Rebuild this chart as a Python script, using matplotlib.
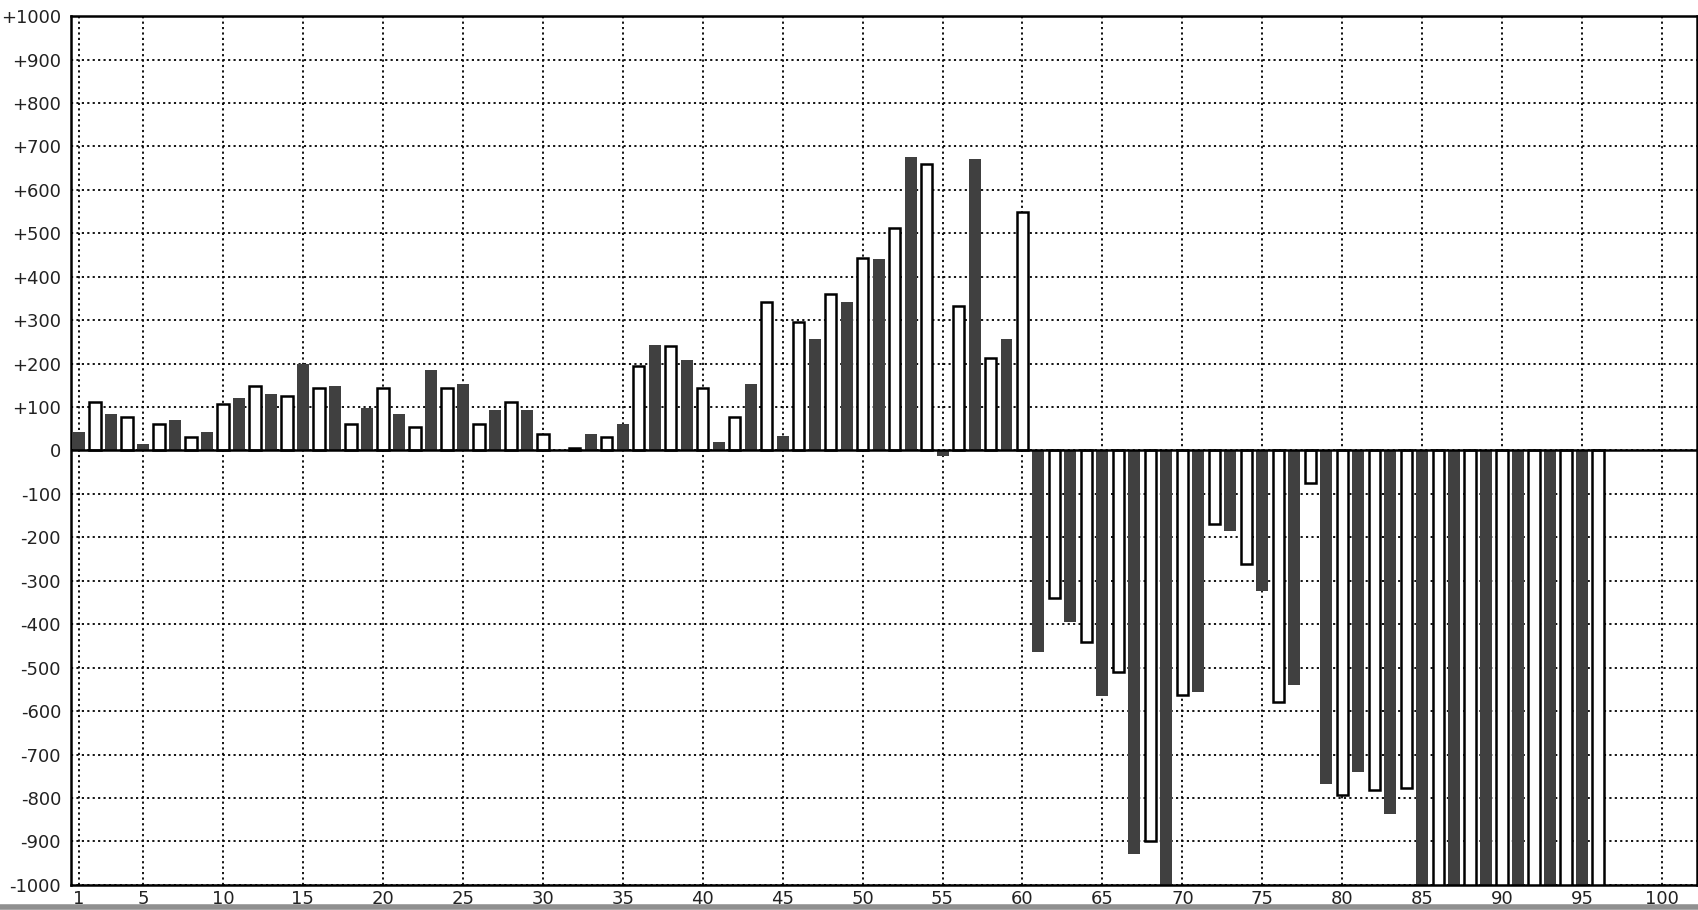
import matplotlib
matplotlib.use("Agg")
import matplotlib.pyplot as plt
from matplotlib.lines import Line2D

# bar values, index 1..96 (odd = dark, even = white)
values = [43, 111, 85, 78, 15, 60, 71, 32, 43, 106,
          122, 148, 131, 125, 200, 143, 149, 60, 98, 143,
          85, 55, 186, 143, 154, 60, 94, 111, 94, 37,
          0, 5, 38, 32, 62, 194, 242, 240, 209, 143,
          20, 78, 154, 342, 34, 296, 256, 360, 343, 443,
          440, 513, 676, 660, -12, 333, 671, 212, 256, 550,
          -465, -340, -396, -441, -566, -510, -928, -900, -1050, -564,
          -557, -170, -186, -261, -323, -579, -539, -74, -768, -794,
          -741, -781, -837, -776, -1100, -1100, -1100, -1100, -1100, -1100,
          -1100, -1100, -1100, -1100, -1100, -1100]
positions = list(range(1, len(values) + 1))
x_ticks = [1] + list(range(5, 101, 5))
y_ticks = list(range(-1000, 1001, 100))
y_labels = ['+%d' % v if v > 0 else str(v) for v in y_ticks]

dark_x = [p for p in positions if p % 2 == 1]
dark_v = [values[p - 1] for p in dark_x]
light_x = [p for p in positions if p % 2 == 0]
light_v = [values[p - 1] for p in light_x]

fig = plt.figure(figsize=(16.98, 9.10), dpi=100)
ax = fig.add_axes([0.0421, 0.0277, 0.9575, 0.9545])

ax.bar(dark_x, dark_v, width=0.75, color='#404040', edgecolor='#404040', lw=0, zorder=3)
ax.bar(light_x, light_v, width=0.72, color='white', edgecolor='black', lw=1.8, zorder=3)
ax.axhline(0, color='black', lw=1.8, zorder=4)

ax.set_xlim(0.53, 102.2)
ax.set_ylim(-1000, 1000)
ax.set_xticks(x_ticks)
ax.set_yticks(y_ticks)
ax.set_yticklabels(y_labels)
ax.grid(color='k', lw=1.3, ls=(0, (1.2, 1.8)), zorder=0)
ax.set_axisbelow(True)
ax.tick_params(axis='both', length=0, labelsize=13, colors='#222222')
ax.tick_params(axis='y', pad=7.5)
ax.tick_params(axis='x', pad=4)
for s in ax.spines.values():
    s.set_linewidth(1.8)
    s.set_color('black')
    s.set_zorder(5)

fig.add_artist(Line2D([0, 1], [0.003, 0.003], color='#909090', lw=4, transform=fig.transFigure))

fig.savefig('out.png', dpi=100)
